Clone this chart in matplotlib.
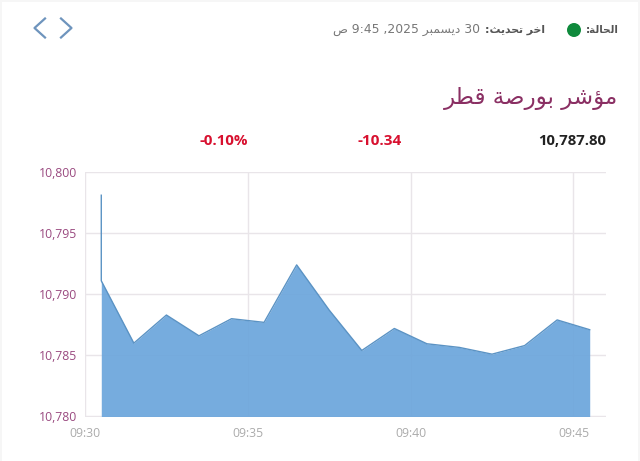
# -*- coding: utf-8 -*-
import pandas as pd
import matplotlib
matplotlib.use("Agg")
import matplotlib.pyplot as plt
import matplotlib.dates as mdates
from matplotlib.lines import Line2D
from matplotlib.patches import Circle, Rectangle

times = ["09:30:30", "09:30:30", "09:31:30", "09:32:30", "09:33:30", "09:34:30",
         "09:35:30", "09:36:30", "09:37:30", "09:38:30", "09:39:30", "09:40:30",
         "09:41:30", "09:42:30", "09:43:30", "09:44:30", "09:45:30"]
values = [10798.1, 10791.1, 10786.0, 10788.3, 10786.6, 10788.0,
          10787.7, 10792.4, 10788.7, 10785.4, 10787.2, 10785.95,
          10785.65, 10785.1, 10785.8, 10787.9, 10787.1]
y_ticks = [10780, 10785, 10790, 10795, 10800]
x_ticks = ["09:30", "09:35", "09:40", "09:45"]

title = "مؤشر بورصة قطر"
status_label = "الحالة:"
update_label = "اخر تحديث:"
update_month = "ديسمبر"
last_value = "10,787.80"
change_value = "-10.34"
change_pct = "-0.10%"

W, H = 640, 461

# isolated, final, initial, medial; matplotlib does no arabic shaping on its own
FORMS = {
    "ا": "ﺍﺎ", "ؤ": "ﺅﺆ", "ة": "ﺓﺔ", "د": "ﺩﺪ", "ر": "ﺭﺮ", "و": "ﻭﻮ",
    "ب": "ﺏﺐﺑﺒ", "ت": "ﺕﺖﺗﺘ", "ث": "ﺙﺚﺛﺜ", "ح": "ﺡﺢﺣﺤ", "خ": "ﺥﺦﺧﺨ",
    "س": "ﺱﺲﺳﺴ", "ش": "ﺵﺶﺷﺸ", "ص": "ﺹﺺﺻﺼ", "ط": "ﻁﻂﻃﻄ", "ق": "ﻕﻖﻗﻘ",
    "ل": "ﻝﻞﻟﻠ", "م": "ﻡﻢﻣﻤ", "ي": "ﻱﻲﻳﻴ",
}


def shape(word):
    # returns glyphs in visual (left to right) order
    out = []
    for i, c in enumerate(word):
        if c not in FORMS:
            out.append(c)
            continue
        prev = word[i - 1] if i > 0 else ""
        nxt = word[i + 1] if i + 1 < len(word) else ""
        from_prev = prev in FORMS and len(FORMS[prev]) == 4
        to_next = nxt in FORMS and len(FORMS[c]) == 4
        if from_prev and to_next:
            idx = 3
        elif to_next:
            idx = 2
        elif from_prev:
            idx = 1
        else:
            idx = 0
        out.append(FORMS[c][idx])
    return "".join(reversed(out))


def shape_line(line):
    return " ".join(shape(w) for w in reversed(line.split(" ")))


def fx(px):
    return px / W


def fy(py):
    return 1 - py / H


plt.rcParams["font.family"] = ["Open Sans", "DejaVu Sans"]

fig = plt.figure(figsize=(6.4, 4.61), dpi=100, facecolor="#f6f6f6")
fig.add_artist(Rectangle((fx(2), 0), fx(636), fy(2), transform=fig.transFigure,
                         facecolor="white", edgecolor="none", zorder=-5))

ax = fig.add_axes([fx(85), fy(416.5), fx(606 - 85), fy(172) - fy(416.5)])
ax.set_facecolor("none")

t = pd.to_datetime(["2025-12-30 " + s for s in times])
tick_pos = pd.to_datetime(["2025-12-30 " + s for s in x_ticks])

ax.fill_between(t, values, y_ticks[0], color="#6ca6dc", alpha=0.93, linewidth=0, zorder=3)
ax.plot(t, values, color="#5b93c4", linewidth=1, zorder=4)

ax.set_xlim(pd.Timestamp("2025-12-30 09:30"), pd.Timestamp("2025-12-30 09:46"))
ax.set_ylim(y_ticks[0], y_ticks[-1])
ax.set_xticks(tick_pos)
ax.xaxis.set_major_formatter(mdates.DateFormatter("%H:%M"))
ax.set_yticks(y_ticks)
ax.set_yticklabels([f"{v:,}" for v in y_ticks])
ax.grid(True, color="#e9e5e9", linewidth=1, zorder=1)
ax.set_axisbelow(True)
for s in ax.spines.values():
    s.set_visible(False)
ax.tick_params(axis="y", length=0, pad=5.5, labelsize=8.8, labelcolor="#9a4a80")
ax.tick_params(axis="x", length=0, pad=7.5, labelsize=8.8, labelcolor="#ababab")

# header
fig.text(fx(619), fy(30), shape_line(status_label), ha="right", va="center",
         fontsize=7.5, fontweight="bold", color="#555555", family="DejaVu Sans")
fig.add_artist(Circle((574, H - 30), 7, transform=None, facecolor="#0f8a3c", edgecolor="none"))
fig.text(fx(545), fy(30), shape_line(update_label), ha="right", va="center",
         fontsize=7.8, fontweight="bold", color="#555555", family="DejaVu Sans")
fig.text(fx(480), fy(30), shape("ص") + " 9:45 ,2025 " + shape(update_month) + " 30",
         ha="right", va="center", fontsize=8.9, color="#777777", family="DejaVu Sans")
fig.text(fx(618), fy(98), shape_line(title), ha="right", va="center",
         fontsize=16.5, color="#8a2f63", family="DejaVu Sans")

fig.text(fx(606), fy(141), last_value, ha="right", va="center",
         fontsize=10.7, fontweight="bold", color="#222222")
fig.text(fx(402), fy(141), change_value, ha="right", va="center",
         fontsize=11, fontweight="bold", color="#d8102f")
fig.text(fx(248), fy(141), change_pct, ha="right", va="center",
         fontsize=10.8, fontweight="bold", color="#d8102f")

# nav arrows
for xs in ([45, 34.5, 45], [61, 71.5, 61]):
    fig.add_artist(Line2D([fx(x) for x in xs], [fy(18.5), fy(28), fy(37.5)],
                          color="#6e94bd", linewidth=1.6))

fig.savefig("out.png", dpi=100, facecolor=fig.get_facecolor())
